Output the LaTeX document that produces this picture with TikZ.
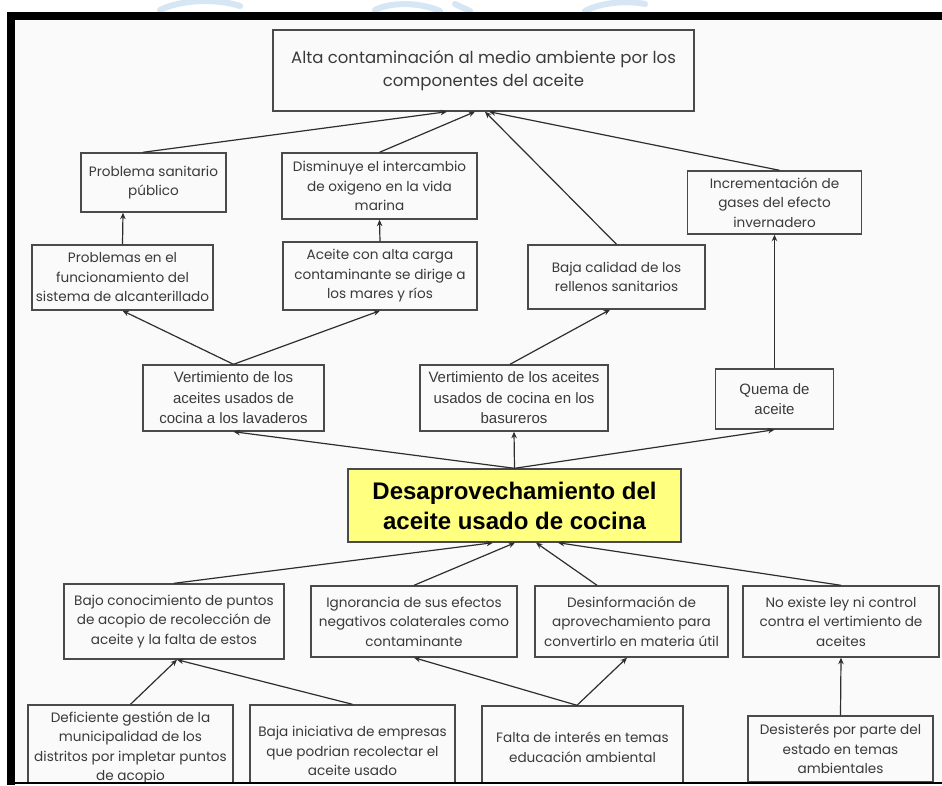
\documentclass[tikz,border=0pt]{standalone}
\usepackage{fontspec}
\setmainfont{Poppins}
\newfontfamily\plainsans{Liberation Sans}
\usetikzlibrary{arrows.meta}
\definecolor{paper}{HTML}{FAFAFA}
\definecolor{boxline}{HTML}{4A4A4A}
\definecolor{ink}{HTML}{3A3A3A}
\definecolor{wire}{HTML}{2E2E2E}
\definecolor{keyfill}{HTML}{FFFF80}
\definecolor{emblemblue}{HTML}{D6E6F5}
\tikzset{
  box/.style={draw=boxline, line width=1.4pt, inner sep=0pt, align=center,
    text=ink, font=\fontsize{13.6}{19.5}\selectfont},
  bigbox/.style={box, font=\fontsize{16.5}{23}\selectfont},
  plainbox/.style={box, font=\plainsans\fontsize{15}{20.5}\selectfont},
  keybox/.style={draw=boxline, line width=1.4pt, fill=keyfill, inner sep=0pt,
    align=center, text=black, font=\plainsans\bfseries\fontsize{24}{30}\selectfont},
  arr/.style={draw=wire, line width=1.2pt, -{Stealth[length=6.5pt,width=5.5pt]}},
  emblem/.style={draw=emblemblue, line width=6pt, line cap=round}
}
\begin{document}
\begin{tikzpicture}[x=1pt,y=-1pt]
\useasboundingbox (0,0) rectangle (942,785);
\fill[white] (0,0) rectangle (942,785);
% faint emblem strokes above the frame
\draw[emblem] (160,10) .. controls (180,0) and (215,-2) .. (240,6);
\draw[emblem] (375,10) .. controls (390,2) and (420,2) .. (440,11);
\draw[emblem] (455,4) -- (470,11);
\draw[emblem] (585,11) .. controls (600,3) and (625,0) .. (645,4);
\fill[paper] (15,20) rectangle (942,782);

\begin{scope}
\clip (15,20) rectangle (942,782);

% effects
\node[bigbox, minimum width=421pt, minimum height=81pt] (top) at (483.5,70.5)
  {Alta contaminación al medio ambiente por los\\componentes del aceite};
\node[box, minimum width=145pt, minimum height=59pt] (ps) at (153.5,182.5)
  {Problema sanitario\\público};
\node[box, minimum width=195pt, minimum height=66pt] (dis) at (379.5,186)
  {Disminuye el intercambio\\de oxigeno en la vida\\marina};
\node[box, minimum width=174pt, minimum height=63pt] (inc) at (774.5,202.5)
  {Incrementación de\\gases del efecto\\invernadero};
\node[box, minimum width=181pt, minimum height=65pt] (pf) at (122.5,277.5)
  {Problemas en el\\funcionamiento del\\sistema de alcanterillado};
\node[box, minimum width=194pt, minimum height=68pt] (ac) at (380,276)
  {Aceite con alta carga\\contaminante se dirige a\\los mares y ríos};
\node[box, minimum width=177pt, minimum height=64pt] (bc) at (616.5,277)
  {Baja calidad de los\\rellenos sanitarios};
\node[plainbox, minimum width=181pt, minimum height=66pt] (vl) at (233.5,398)
  {Vertimiento de los\\aceites usados de\\cocina a los lavaderos};
\node[plainbox, minimum width=188pt, minimum height=66pt] (vb) at (514,398)
  {Vertimiento de los aceites\\usados de cocina en los\\basureros};
\node[plainbox, minimum width=118pt, minimum height=60pt] (qa) at (774.5,399)
  {Quema de\\aceite};

% central problem
\node[keybox, minimum width=333pt, minimum height=73pt] (core) at (514.5,505.5)
  {Desaprovechamiento del\\aceite usado de cocina};

% causes
\node[box, minimum width=220pt, minimum height=75pt] (bk) at (174,621.5)
  {Bajo conocimiento de puntos\\de acopio de recolección de\\aceite y la falta de estos};
\node[box, minimum width=206pt, minimum height=71pt] (ig) at (414,621.5)
  {Ignorancia de sus efectos\\negativos colaterales como\\contaminante};
\node[box, minimum width=193pt, minimum height=71pt] (de) at (631.5,621.5)
  {Desinformación de\\aprovechamiento para\\convertirlo en materia útil};
\node[box, minimum width=196pt, minimum height=71pt] (ne) at (841,621.5)
  {No existe ley ni control\\contra el vertimiento de\\aceites};
\node[box, minimum width=205pt, minimum height=86pt] (df) at (130.5,748)
  {Deficiente gestión de la\\municipalidad de los\\distritos por impletar puntos\\de acopio};
\node[box, minimum width=205pt, minimum height=92pt] (bi) at (352.5,751)
  {Baja iniciativa de empresas\\que podrian recolectar el\\aceite usado};
\node[box, minimum width=201pt, minimum height=82pt] (fi) at (582.5,747)
  {Falta de interés en temas\\educación ambiental};
\node[box, minimum width=185pt, minimum height=66pt] (ds) at (840.5,749)
  {Desisterés por parte del\\estado en temas\\ambientales};

% effects tree
\draw[arr] ([xshift=-10.5pt]ps.north) -- ([xshift=-36.5pt]top.south);
\draw[arr] (dis.north) -- ([xshift=-8.5pt]top.south);
\draw[arr] (bc.north) -- ([xshift=1.5pt]top.south);
\draw[arr] ([xshift=5pt]inc.north) -- ([xshift=5.5pt]top.south);
\draw[arr] (pf.north) -- ([xshift=-30.5pt]ps.south);
\draw[arr] (ac.north) -- (dis.south);
\draw[arr] (vl.north) -- (pf.south);
\draw[arr] (vl.north) -- (ac.south);
\draw[arr] ([xshift=-4pt]vb.north) -- ([xshift=-6.5pt]bc.south);
\draw[arr] (qa.north) -- (inc.south);
\draw[arr] (core.north) -- (vl.south);
\draw[arr] (core.north) -- (vb.south);
\draw[arr] (core.north) -- (qa.south);

% causes tree
\draw[arr] (bk.north) -- ([xshift=-21.5pt]core.south);
\draw[arr] (ig.north) -- ([xshift=0.5pt]core.south);
\draw[arr] ([xshift=-34.5pt]de.north) -- ([xshift=21.5pt]core.south);
\draw[arr] (ne.north) -- ([xshift=43.5pt]core.south);
\draw[arr] (df.north) -- ([xshift=3pt]bk.south);
\draw[arr] (bi.north) -- ([xshift=3pt]bk.south);
\draw[arr] ([xshift=-5.5pt]fi.north) -- (ig.south);
\draw[arr] ([xshift=-5.5pt]fi.north) -- ([xshift=-4.5pt]de.south);
\draw[arr] (ds.north) -- (ne.south);
\end{scope}

% frame
\fill[black] (7,12) rectangle (942,20);
\fill[black] (7,12) rectangle (15,785);
\fill[black] (7,781.5) rectangle (942,783.5);
\end{tikzpicture}
\end{document}
